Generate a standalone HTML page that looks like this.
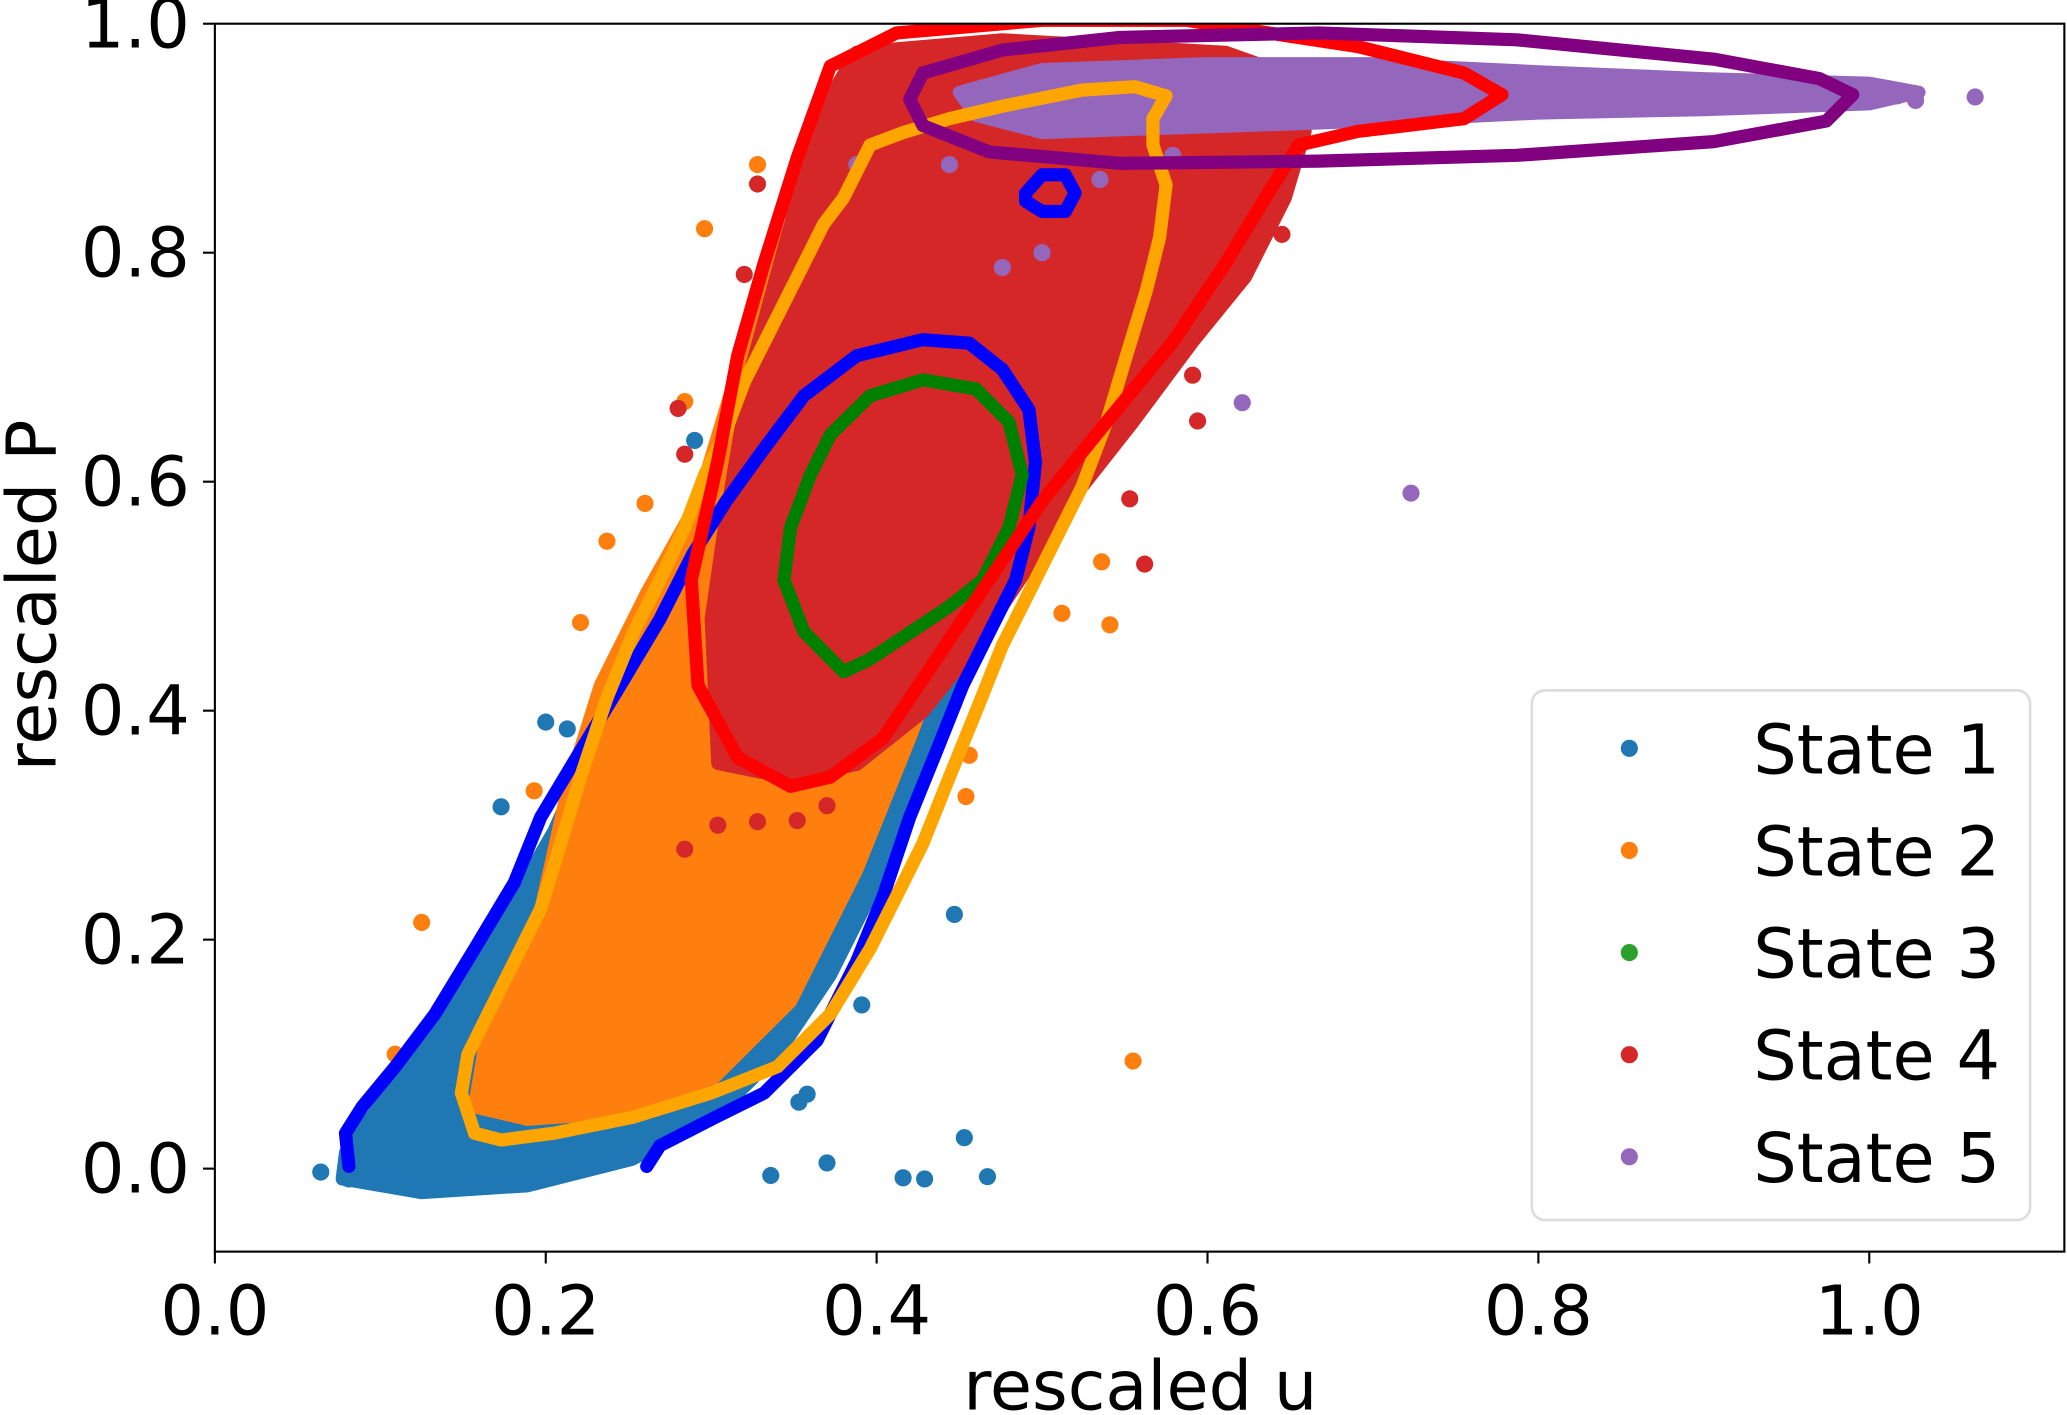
<!DOCTYPE html>
<html><head><meta charset="utf-8"><style>
html,body{margin:0;padding:0;background:#fff;}
svg{display:block;font-family:"DejaVu Sans","Liberation Sans",sans-serif;}
</style></head><body>
<svg id="chart" width="2067" height="1415" viewBox="0 0 1568 1074" preserveAspectRatio="none" xmlns="http://www.w3.org/2000/svg">
<defs><clipPath id="plotclip"><rect x="163" y="18" width="1403" height="932"/></clipPath></defs>
<rect x="0" y="0" width="1568" height="1074" fill="#fff"/>
<g id="plot" clip-path="url(#plotclip)"></g>
<rect x="163" y="18" width="1403" height="932" fill="none" stroke="#000" stroke-width="1.6"/>
<g id="axes"></g>
<text x="865" y="1070" font-size="52" text-anchor="middle">rescaled u</text>
<text transform="translate(42,452) rotate(-90)" font-size="52" text-anchor="middle">rescaled P</text>
<g id="legend">
<rect x="1162" y="524" width="378" height="402" rx="10" fill="#fff" fill-opacity="0.8" stroke="#ddd" stroke-width="2"/>
</g>
</svg>
<script>
const xTicks=[0.0,0.2,0.4,0.6,0.8,1.0];
const yTicks=[0.0,0.2,0.4,0.6,0.8,1.0];
const stateNames=["State 1","State 2","State 3","State 4","State 5"];
const stateColors=["#1f77b4","#ff7f0e","#2ca02c","#d62728","#9467bd"];
const fill1U=[0.079,0.099,0.133,0.173,0.205,0.237,0.269,0.301,0.349,0.42,0.476,0.458,0.428,0.404,0.372,0.34,0.3,0.252,0.189,0.125,0.077];
const fill1P=[0.014,0.054,0.123,0.215,0.295,0.399,0.479,0.548,0.605,0.64,0.581,0.468,0.353,0.261,0.169,0.1,0.043,0.008,-0.015,-0.021,-0.009];
const fill2U=[0.157,0.165,0.197,0.213,0.233,0.261,0.292,0.316,0.348,0.38,0.428,0.508,0.556,0.548,0.524,0.5,0.476,0.444,0.42,0.388,0.348,0.3,0.237,0.189];
const fill2P=[0.054,0.123,0.226,0.33,0.422,0.503,0.583,0.698,0.825,0.906,0.94,0.951,0.94,0.848,0.733,0.641,0.56,0.468,0.376,0.261,0.146,0.077,0.048,0.043];
const fill4U=[0.304,0.3,0.308,0.324,0.348,0.364,0.388,0.476,0.611,0.66,0.659,0.647,0.623,0.591,0.555,0.524,0.492,0.46,0.428,0.388,0.348];
const fill4P=[0.354,0.48,0.56,0.698,0.825,0.917,0.975,0.986,0.975,0.95,0.906,0.848,0.779,0.722,0.652,0.595,0.526,0.457,0.399,0.353,0.341];
const fill5U=[0.45,0.5,0.6,0.7,0.8,0.9,1.0,1.03,1.0,0.9,0.8,0.7,0.6,0.5,0.46];
const fill5P=[0.94,0.96,0.965,0.965,0.958,0.952,0.948,0.94,0.93,0.925,0.922,0.915,0.91,0.905,0.92];
const pts1U=[0.064,0.081,0.099,0.173,0.2,0.213,0.336,0.37,0.416,0.429,0.467,0.453,0.447,0.391,0.353,0.29,0.358];
const pts1P=[-0.003,-0.009,-0.007,0.316,0.39,0.384,-0.006,0.005,-0.008,-0.009,-0.007,0.027,0.222,0.143,0.058,0.636,0.065];
const pts2U=[0.555,0.296,0.328,0.26,0.237,0.221,0.536,0.541,0.512,0.454,0.456,0.109,0.125,0.193,0.284];
const pts2P=[0.094,0.821,0.877,0.581,0.548,0.477,0.53,0.475,0.485,0.325,0.361,0.1,0.215,0.33,0.67];
const pts4U=[0.328,0.32,0.562,0.553,0.594,0.645,0.284,0.304,0.328,0.352,0.37,0.28,0.284,0.591,0.631];
const pts4P=[0.86,0.781,0.528,0.585,0.653,0.816,0.279,0.3,0.303,0.304,0.317,0.664,0.624,0.693,0.859];
const pts5U=[0.723,0.621,0.476,0.5,1.064,1.028,1.017,0.388,0.444,0.535,0.579];
const pts5P=[0.59,0.669,0.787,0.8,0.936,0.933,0.937,0.877,0.877,0.864,0.885];
const cRedU=[0.348,0.316,0.292,0.288,0.304,0.316,0.332,0.352,0.372,0.412,0.5,0.587,0.691,0.755,0.778,0.755,0.691,0.655,0.635,0.611,0.579,0.539,0.5,0.468,0.436,0.404,0.372,0.348];
const cRedP=[0.334,0.359,0.422,0.514,0.618,0.71,0.791,0.883,0.963,0.992,1.003,1.003,0.98,0.957,0.938,0.917,0.906,0.894,0.848,0.791,0.722,0.652,0.583,0.514,0.445,0.376,0.342,0.334];
const cBlueU=[0.081,0.079,0.089,0.109,0.133,0.157,0.181,0.197,0.221,0.245,0.269,0.289,0.309,0.332,0.356,0.388,0.428,0.456,0.476,0.492,0.496,0.492,0.484,0.468,0.452,0.436,0.42,0.404,0.388,0.364,0.332,0.3,0.269,0.261];
const cBlueP=[0.002,0.031,0.054,0.089,0.135,0.192,0.25,0.307,0.365,0.422,0.48,0.537,0.583,0.629,0.675,0.71,0.724,0.721,0.698,0.663,0.617,0.56,0.514,0.468,0.422,0.364,0.307,0.238,0.181,0.112,0.066,0.043,0.02,0.002];
const cBlue2U=[0.49,0.5,0.514,0.52,0.514,0.5,0.49,0.49];
const cBlue2P=[0.852,0.868,0.868,0.852,0.836,0.836,0.845,0.852];
const cGreenU=[0.38,0.356,0.344,0.348,0.36,0.372,0.396,0.428,0.46,0.48,0.488,0.48,0.464,0.444,0.42,0.396,0.38];
const cGreenP=[0.434,0.469,0.514,0.56,0.606,0.641,0.675,0.689,0.681,0.652,0.606,0.56,0.514,0.491,0.468,0.445,0.434];
const cOrangeU=[0.157,0.149,0.153,0.165,0.181,0.197,0.209,0.221,0.237,0.253,0.269,0.284,0.296,0.308,0.32,0.336,0.352,0.368,0.38,0.396,0.416,0.444,0.476,0.524,0.556,0.575,0.567,0.567,0.575,0.571,0.563,0.551,0.539,0.524,0.508,0.492,0.476,0.46,0.444,0.428,0.412,0.396,0.372,0.34,0.3,0.253,0.205,0.173,0.157];
const cOrangeP=[0.031,0.066,0.1,0.135,0.181,0.227,0.284,0.342,0.411,0.468,0.514,0.56,0.606,0.641,0.687,0.733,0.779,0.825,0.848,0.894,0.905,0.917,0.928,0.942,0.945,0.937,0.917,0.894,0.859,0.813,0.767,0.71,0.652,0.595,0.549,0.503,0.457,0.399,0.342,0.284,0.238,0.192,0.135,0.089,0.066,0.045,0.031,0.025,0.031];
const cPurpleU=[0.42,0.428,0.476,0.547,0.667,0.787,0.906,0.97,0.99,0.974,0.906,0.787,0.667,0.547,0.468,0.428,0.42];
const cPurpleP=[0.934,0.957,0.977,0.988,0.992,0.986,0.969,0.952,0.938,0.915,0.897,0.885,0.88,0.878,0.888,0.911,0.934];

const NS="http://www.w3.org/2000/svg";
function sx(u){return 163+u*1255;}
function sy(p){return 887-p*869;}
function mk(t,a,parent){const e=document.createElementNS(NS,t);for(const k in a)e.setAttribute(k,a[k]);parent.appendChild(e);return e;}
function ptsStr(U,P){return U.map((u,i)=>sx(u).toFixed(1)+","+sy(P[i]).toFixed(1)).join(" ");}
const plot=document.getElementById("plot");
const axes=document.getElementById("axes");

function region(U,P,color,name){
  const e=mk("polygon",{points:ptsStr(U,P),fill:color,stroke:color,"stroke-width":10,"stroke-linejoin":"round"},plot);
  
  
}
function scatter(U,P,color,name){
  U.forEach((u,i)=>{
    const c=mk("circle",{cx:sx(u),cy:sy(P[i]),r:6.5,fill:color},plot);
    
    
  });
}
function contour(U,P,color,name){
  const e=mk("polyline",{points:ptsStr(U,P),fill:"none",stroke:color,"stroke-width":10,"stroke-linejoin":"round","stroke-linecap":"round"},plot);
  
  
}
region(fill1U,fill1P,stateColors[0],"state-1-scatter-cloud");
scatter(pts1U,pts1P,stateColors[0],"state-1-point");
region(fill2U,fill2P,stateColors[1],"state-2-scatter-cloud");
scatter(pts2U,pts2P,stateColors[1],"state-2-point");
region(fill4U,fill4P,stateColors[3],"state-4-scatter-cloud");
scatter(pts4U,pts4P,stateColors[3],"state-4-point");
region(fill5U,fill5P,stateColors[4],"state-5-scatter-cloud");
scatter(pts5U,pts5P,stateColors[4],"state-5-point");
contour(cBlueU,cBlueP,"#0000ff","state-1-contour");
contour(cBlue2U,cBlue2P,"#0000ff","state-1-contour-small");
contour(cOrangeU,cOrangeP,"#ffa500","state-2-contour");
contour(cGreenU,cGreenP,"#008000","state-3-contour");
contour(cRedU,cRedP,"#ff0000","state-4-contour");
contour(cPurpleU,cPurpleP,"#800080","state-5-contour");

xTicks.forEach(v=>{
  const l=mk("line",{x1:sx(v),x2:sx(v),y1:950,y2:959,stroke:"#000","stroke-width":1.6},axes);
  
  
  const t=mk("text",{x:sx(v),y:1013,"font-size":52,"text-anchor":"middle"},axes);
  t.textContent=v.toFixed(1);
  
  
});
yTicks.forEach(v=>{
  const l=mk("line",{x1:154,x2:163,y1:sy(v),y2:sy(v),stroke:"#000","stroke-width":1.6},axes);
  
  
  const t=mk("text",{x:144,y:sy(v)+18,"font-size":52,"text-anchor":"end"},axes);
  t.textContent=v.toFixed(1);
  
  
});
const leg=document.getElementById("legend");
stateNames.forEach((n,i)=>{
  const y=568+i*77.5;
  const c=mk("circle",{cx:1236,cy:y,r:6.5,fill:stateColors[i]},leg);
  
  
  const t=mk("text",{x:1330,y:y+19,"font-size":52},leg);
  t.textContent=n;
  
  
});
</script>
</body></html>
